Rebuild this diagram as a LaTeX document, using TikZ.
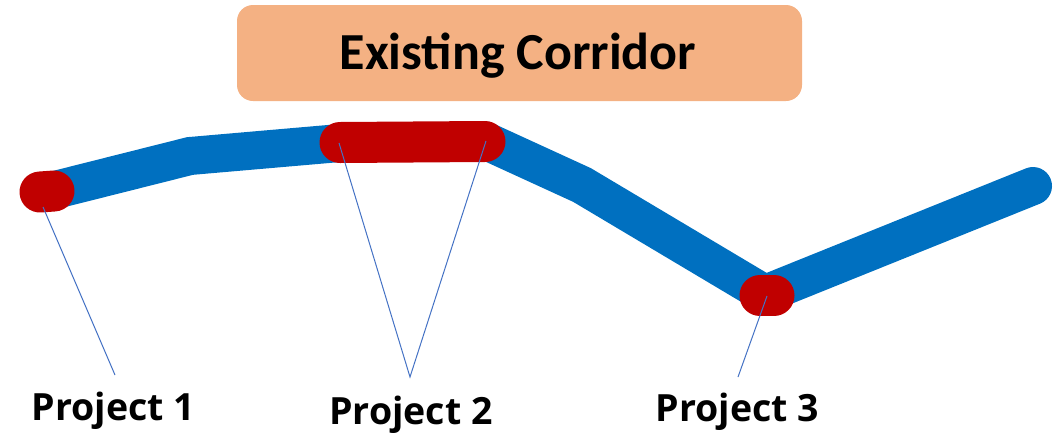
\documentclass[tikz,border=0pt]{standalone}
\usepackage{fontspec}
\newfontfamily\titlefont{Carlito}[BoldFont={* Bold}]
\newfontfamily\labelfont{Open Sans}
\definecolor{corridor}{HTML}{0070C0}
\definecolor{project}{HTML}{C00000}
\definecolor{leader}{HTML}{4472C4}
\definecolor{banner}{HTML}{F4B183}
\tikzset{
  route/.style={draw=corridor, line width=38pt, line join=miter, line cap=round},
  segment/.style={draw=project, line width=41pt, line cap=round},
  leaderline/.style={draw=leader, line width=1pt},
  plabel/.style={font=\labelfont\bfseries\fontsize{37.5}{40}\selectfont, anchor=base, inner sep=0pt},
  titlebox/.style={fill=banner, rounded corners=16pt, minimum width=565pt, minimum height=96pt, inner sep=0pt},
  titletext/.style={font=\titlefont\bfseries\fontsize{52}{58}\selectfont, anchor=base, inner sep=0pt}
}
\begin{document}
\begin{tikzpicture}[x=1pt, y=-1pt]
  \useasboundingbox (0,0) rectangle (1060,432);

  % corridor vertices
  \coordinate (c0) at (47,192);
  \coordinate (c1) at (190,156);
  \coordinate (c2) at (340,143);
  \coordinate (c3) at (486,141);
  \coordinate (c4) at (582,185);
  \coordinate (c5) at (765,294);
  \coordinate (c6) at (1033,186);

  % title banner
  \node[titlebox] (title) at (519.5,53) {};
  \node[titletext] (titlelabel) at (518,69) {Existing Corridor};

  % existing corridor
  \draw[route] (c0) -- (c1) -- (c2) -- (c3) -- (c4) -- (c5) -- (c6);

  % project segments
  \coordinate (p1a) at (40,192);
  \coordinate (p1b) at (54,191);
  \coordinate (p2a) at (340,142.5);
  \coordinate (p2b) at (485,141.5);
  \coordinate (p3a) at (760,295.5);
  \coordinate (p3b) at (774,295.5);
  \draw[segment] (p1a) -- (p1b);
  \draw[segment] (p2a) -- (p2b);
  \draw[segment] (p3a) -- (p3b);

  % labels
  \node[plabel] (lab1) at (113.5,420) {Project 1};
  \node[plabel] (lab2) at (411,424) {Project 2};
  \node[plabel] (lab3) at (737.5,421) {Project 3};

  % leader lines
  \coordinate (l1) at (115,375);
  \coordinate (l2) at (410,377);
  \coordinate (l3) at (738,377);
  \coordinate (s1) at (43,207);
  \coordinate (s2a) at (339,143);
  \coordinate (s2b) at (486,141);
  \coordinate (s3) at (767,296);
  \draw[leaderline] (s1) -- (l1);
  \draw[leaderline] (s2a) -- (l2) -- (s2b);
  \draw[leaderline] (s3) -- (l3);
\end{tikzpicture}
\end{document}
